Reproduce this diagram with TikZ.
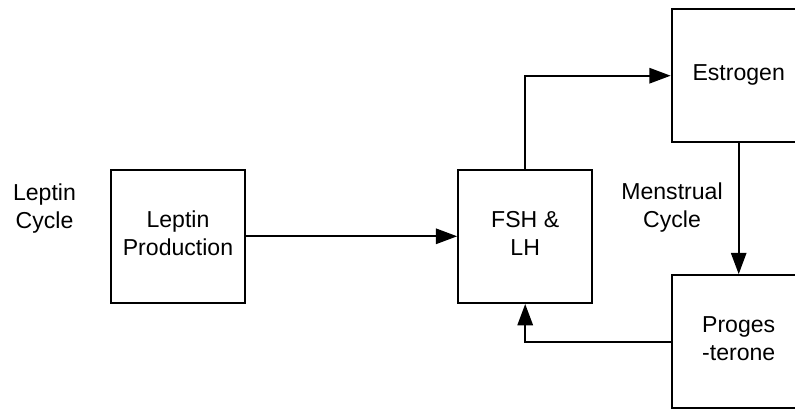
\documentclass[tikz,border=0pt]{standalone}
\usepackage{fontspec}
\setmainfont{Liberation Sans}
\usetikzlibrary{arrows.meta}
\tikzset{
  px/.style={x=0.75pt,y=-0.75pt},
  blockbox/.style={draw,line width=1.5pt,minimum width=100.5pt,minimum height=100pt,inner sep=0pt},
  plainlabel/.style={align=center,inner sep=0pt,font=\fontsize{17.3}{21}\selectfont},
  flow/.style={line width=1.5pt,-{Triangle[length=16pt,width=11.5pt]}},
}
\begin{document}
\begin{tikzpicture}[px]
  \useasboundingbox (0,0) rectangle (795,409);
  \clip (0,0) rectangle (795,409);
  % blocks
  \node[blockbox] (lep) at (178,236.3) {};
  \node[blockbox] (fsh) at (525.2,236.3) {};
  \node[blockbox] (est) at (738.7,75.7) {};
  \node[blockbox] (pro) at (738.7,341.8) {};
  % block texts
  \node[plainlabel] (lepT) at (178,232.9) {Leptin\\Production};
  \node[plainlabel] (fshT) at (525.2,233.3) {FSH \&\\LH};
  \node[plainlabel] (estT) at (738.7,74.5) {Estrogen};
  \node[plainlabel] (proT) at (738.7,338.3) {Proges\\-terone};
  % free labels
  \node[plainlabel] (lc) at (44.5,209) {Leptin\\Cycle};
  \node[plainlabel] (mc) at (672,207.4) {Menstrual\\Cycle};
  % connectors
  \draw[flow] (lep.east) -- (fsh.west);
  \draw[flow] (fsh.north) |- (est.west);
  \draw[flow] (est.south) -- (pro.north);
  \draw[flow] (pro.west) -| (fsh.south);
\end{tikzpicture}
\end{document}
